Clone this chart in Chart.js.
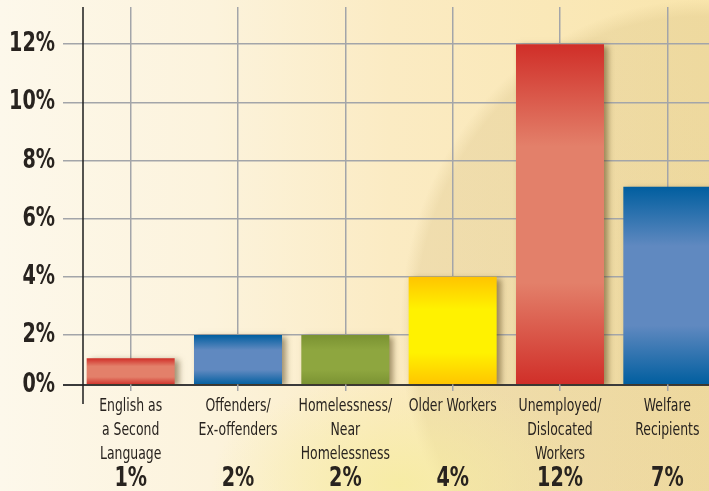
<!DOCTYPE html>
<html>
<head>
<meta charset="utf-8">
<script src="https://cdn.jsdelivr.net/npm/chart.js@4/dist/chart.umd.min.js"></script>
<style>
  html, body { margin: 0; padding: 0; width: 709px; height: 491px; overflow: hidden; }
  body {
    background:
      radial-gradient(ellipse 190px 110px at 400px 485px, rgba(246, 236, 160, 0.85), rgba(246, 236, 160, 0)),
      radial-gradient(ellipse 300px 330px at 700px 330px, rgba(200, 175, 110, 0.24) 0%, rgba(200, 175, 110, 0.22) 95%, rgba(200, 175, 110, 0) 100%),
      linear-gradient(90deg, #fdf8eb 0%, #fcf3dc 30%, #fbebc3 55%, #f9e5ac 100%);
  }
  .chart-box { position: relative; width: 721px; height: 491px; }
</style>
</head>
<body>
<div class="chart-box"><canvas id="myChart"></canvas></div>
<script>
const categories = [
  ["English as", "a Second", "Language"],
  ["Offenders/", "Ex-offenders"],
  ["Homelessness/", "Near", "Homelessness"],
  ["Older Workers"],
  ["Unemployed/", "Dislocated", "Workers"],
  ["Welfare", "Recipients"]
];
const shares = [1.2, 2, 2, 4, 12, 7.1];
const shareLabels = ["1%", "2%", "2%", "4%", "12%", "7%"];
const yTicks = [0, 2, 4, 6, 8, 10, 12];
// [edge colour, middle colour] for each bar
const barColors = [
  ["#d02e28", "#e3806a"],
  ["#005e9f", "#6089c0"],
  ["#7a9232", "#8ea63f"],
  ["#ffc400", "#fff200"],
  ["#d02e28", "#e3806a"],
  ["#005e9f", "#6089c0"]
];

// the drawn zero line sits a little above true zero in the original
const axisFloor = 0.28;
const axisTop = 13.28;
const axisInset = 6;
const axisDrop = 19;

const fontFamily = "'DejaVu Sans Condensed', 'DejaVu Sans', sans-serif";
const squeeze = 0.79; // the original uses a very narrow face
const ink = "#28231f";

function barFill(ctx) {
  const chart = ctx.chart;
  const y = chart.scales.y;
  const [edge, mid] = barColors[ctx.dataIndex];
  if (!y || !chart.chartArea || ctx.type !== "data") return mid;
  const top = y.getPixelForValue(ctx.parsed.y);
  const bottom = y.getPixelForValue(axisFloor);
  const g = chart.ctx.createLinearGradient(0, top, 0, bottom);
  g.addColorStop(0, edge);
  g.addColorStop(0.3, mid);
  g.addColorStop(0.7, mid);
  g.addColorStop(1, edge);
  return g;
}

// squeeze all text horizontally through fillText's maxWidth
const narrowText = {
  id: "narrowText",
  beforeDraw(chart) {
    const c = chart.ctx;
    if (c.__narrow) return;
    const orig = c.fillText.bind(c);
    c.fillText = (text, x, y, maxWidth) => {
      let w = c.measureText(text).width * squeeze;
      if (maxWidth !== undefined) w = Math.min(w, maxWidth);
      orig(text, x, y, Math.max(w, 1));
    };
    c.__narrow = true;
  }
};

const barShadow = {
  id: "barShadow",
  beforeDatasetsDraw(chart) {
    const c = chart.ctx;
    c.save();
    c.shadowColor = "rgba(70, 50, 10, 0.5)";
    c.shadowBlur = 6;
    c.shadowOffsetX = 4;
    c.shadowOffsetY = 2;
  },
  afterDatasetsDraw(chart) {
    chart.ctx.restore();
  }
};

const axisLine = {
  id: "axisLine",
  afterDatasetsDraw(chart) {
    const { ctx, chartArea } = chart;
    const x = chartArea.left + axisInset;
    ctx.save();
    ctx.strokeStyle = "#1c1c1c";
    ctx.lineWidth = 1.5;
    ctx.beginPath();
    ctx.moveTo(x, chartArea.top);
    ctx.lineTo(x, chartArea.bottom + axisDrop);
    ctx.stroke();
    ctx.restore();
  }
};

const chart = new Chart(document.getElementById("myChart"), {
  type: "bar",
  data: {
    labels: categories,
    datasets: [{
      data: shares,
      xAxisID: "x",
      yAxisID: "y",
      base: axisFloor,
      backgroundColor: barFill,
      borderWidth: 0,
      barPercentage: 0.82,
      categoryPercentage: 1
    }]
  },
  options: {
    responsive: true,
    maintainAspectRatio: false,
    animation: false,
    layout: { padding: { top: 7, left: 0, right: 0, bottom: 0 } },
    plugins: { legend: { display: false }, tooltip: { enabled: false } },
    scales: {
      y: {
        min: axisFloor,
        max: axisTop,
        afterBuildTicks: (s) => {
          s.ticks = yTicks.map((v) => ({ value: Math.max(v, s.min) }));
        },
        afterFit: (s) => {
          s.width = 77;
          s.paddingTop = 0;
          s.paddingBottom = 0;
        },
        ticks: {
          autoSkip: false,
          padding: 8,
          color: ink,
          font: { family: fontFamily, size: 27, weight: "bold" },
          callback: (v, i) => yTicks[i] + "%"
        },
        grid: {
          color: (c) => (c.index === 0 ? "#3a3a3a" : "#a3a5a9"),
          lineWidth: (c) => (c.index === 0 ? 2 : 1.5),
          tickLength: 14
        },
        border: { display: false }
      },
      x: {
        offset: true,
        weight: 0,
        afterFit: (s) => {
          s.height = 80;
          s.paddingLeft = 0;
          s.paddingRight = 0;
        },
        ticks: {
          autoSkip: false,
          maxRotation: 0,
          padding: 4,
          color: ink,
          font: { family: fontFamily, size: 17.5, lineHeight: 1.35 }
        },
        grid: { offset: false, color: "#a3a5a9", lineWidth: 1.5, tickLength: 6 },
        border: { display: false }
      },
      x2: {
        type: "category",
        position: "bottom",
        offset: true,
        weight: 1,
        afterFit: (s) => {
          s.height = 26;
          s.paddingLeft = 0;
          s.paddingRight = 0;
        },
        ticks: {
          autoSkip: false,
          maxRotation: 0,
          padding: 0,
          color: ink,
          font: { family: fontFamily, size: 27, weight: "bold", lineHeight: 1 },
          callback: (v, i) => shareLabels[i]
        },
        grid: { display: false, drawTicks: false },
        border: { display: false }
      }
    }
  },
  plugins: [narrowText, barShadow, axisLine]
});
</script>
</body>
</html>
